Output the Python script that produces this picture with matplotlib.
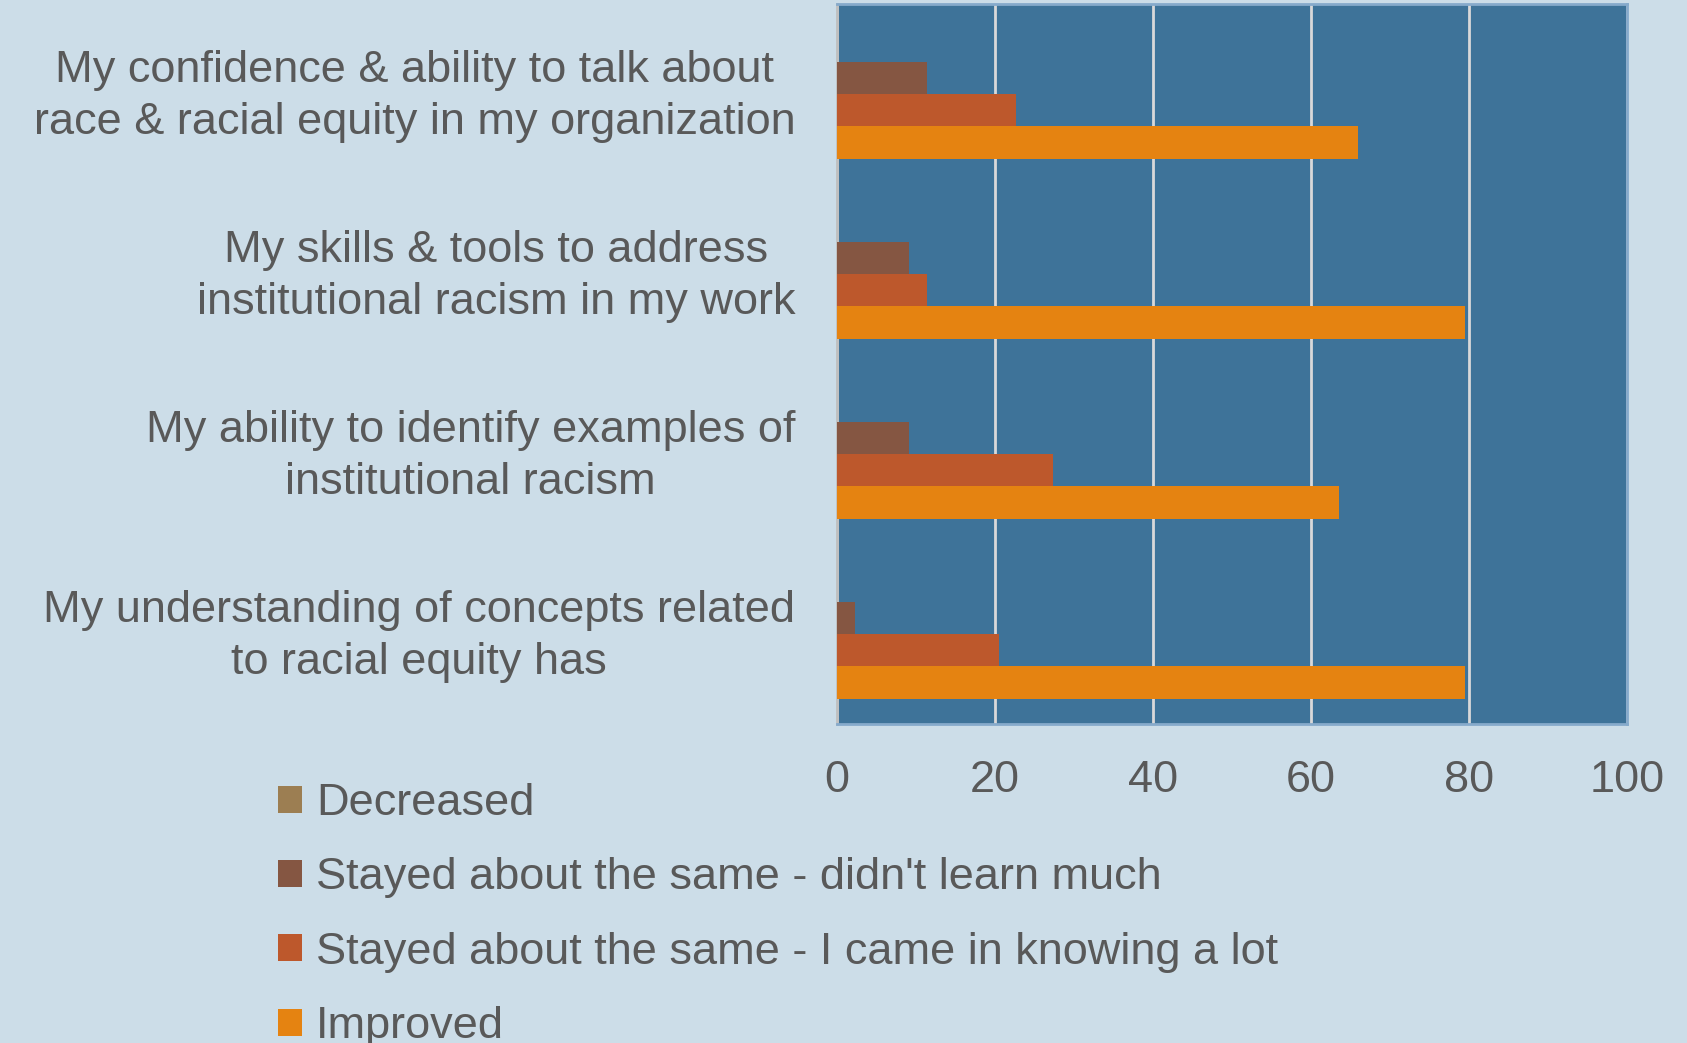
import numpy as np
import matplotlib.pyplot as plt
from matplotlib.patches import Patch
from matplotlib.transforms import ScaledTranslation

plt.rcParams['font.family'] = ['Liberation Sans', 'DejaVu Sans']

# categories, top to bottom
categories = ["My confidence & ability to talk about\nrace & racial equity in my organization",
              "My skills & tools to address\ninstitutional racism in my work",
              "My ability to identify examples of\ninstitutional racism",
              "My understanding of concepts related\nto racial equity has"]
series_names = ["Decreased",
                "Stayed about the same - didn't learn much",
                "Stayed about the same - I came in knowing a lot",
                "Improved"]
decreased = [0, 0, 0, 0]
same_little = [11.4, 9.1, 9.1, 2.3]
same_knew = [22.7, 11.4, 27.3, 20.5]
improved = [65.9, 79.5, 63.6, 79.5]
x_ticks = [0, 20, 40, 60, 80, 100]

colors = ['#9C7E52', '#855642', '#BD582C', '#E58311']
bg = '#CCDDE8'
txt = '#595959'

fig = plt.figure(figsize=(16.87, 10.43), dpi=100, facecolor=bg)
ax = fig.add_axes([837/1687, 1 - 724/1043, 790/1687, 720/1043])
ax.set_facecolor('#3E7399')

y = np.arange(len(categories))
h = 0.18
all_series = [decreased, same_little, same_knew, improved]
for k, (vals, c) in enumerate(zip(all_series, colors)):
    ax.barh(y + (k - 1.5) * h, vals, height=h, color=c, zorder=3)

ax.set_xlim(0, 100)
ax.set_ylim(len(categories) - 0.5, -0.5)
ax.set_xticks(x_ticks)
ax.set_xticklabels([str(t) for t in x_ticks])
ax.xaxis.grid(True, color='#D9D9D9', linewidth=2, zorder=1)
ax.set_yticks(y)
ax.set_yticklabels(categories, multialignment='center', linespacing=1.35)
ax.tick_params(axis='both', length=0, labelsize=32.5, colors=txt)
ax.tick_params(axis='x', pad=26)
ax.tick_params(axis='y', pad=30)
# nudge category labels up a little, like the original
shift = ScaledTranslation(0, 0.075, fig.dpi_scale_trans)
for lab in ax.get_yticklabels():
    lab.set_transform(lab.get_transform() + shift)
for s in ax.spines.values():
    s.set_color('#86AACB')
    s.set_linewidth(2)
ax.spines['left'].set_color('#BFBFBF')

handles = [Patch(facecolor=c, edgecolor='none') for c in colors]
fig.legend(handles, series_names, loc='upper left', bbox_to_anchor=(260/1687, 1 - 765/1043),
           frameon=False, fontsize=32.5, labelcolor=txt, handlelength=0.54, handleheight=0.54,
           handletextpad=0.3, labelspacing=0.74, borderaxespad=0)

fig.savefig('out.png', dpi=100, facecolor=bg)
